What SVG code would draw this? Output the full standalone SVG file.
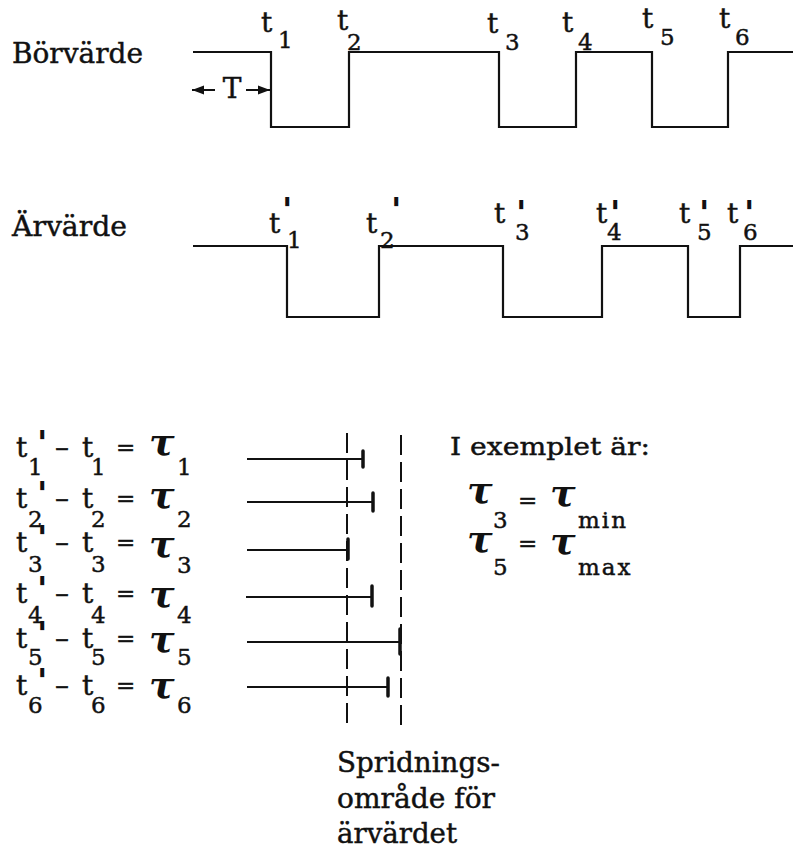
<svg xmlns="http://www.w3.org/2000/svg" width="795" height="852" viewBox="0 0 795 852">
<style>
text{font-family:"DejaVu Serif","Liberation Serif",serif;fill:#111;stroke:#111;stroke-width:0.45}
.lbl{font-size:28px}
.t{font-size:28px}
.d{font-size:23px}
.p{font-size:34px;font-weight:bold;stroke:none}
.tau{font-size:38px;font-style:italic;font-weight:bold;stroke:none}
.wave{fill:none;stroke:#111;stroke-width:2.2}
.bar{stroke:#111;stroke-width:2}
.tick{stroke:#111;stroke-width:3.5;stroke-linecap:round}
.dash{stroke:#111;stroke-width:2;stroke-dasharray:20 7}
</style>
<defs>
<marker id="ah" viewBox="0 0 12 10" refX="12" refY="5" markerWidth="12" markerHeight="10" markerUnits="userSpaceOnUse" orient="auto">
<path d="M0,0.5 L12,5 L0,9.5 Z" fill="#111"/>
</marker>
</defs>
<rect width="795" height="852" fill="#fff"/>

<g id="borvarde">
<text class="lbl" x="12" y="63" textLength="131" lengthAdjust="spacingAndGlyphs">Börvärde</text>
<path class="wave" d="M193,52 H271 V127 H349 V52 H499 V127 H576 V52 H652 V127 H728 V52 H793"/>
<text class="t" x="261" y="32">t<tspan class="d" x="278" y="48">1</tspan></text>
<text class="t" x="337" y="30">t<tspan class="d" x="347" y="50">2</tspan></text>
<text class="t" x="487" y="33">t<tspan class="d" x="505" y="50">3</tspan></text>
<text class="t" x="562" y="32">t<tspan class="d" x="578" y="50">4</tspan></text>
<text class="t" x="642" y="28">t<tspan class="d" x="660" y="45">5</tspan></text>
<text class="t" x="719" y="28">t<tspan class="d" x="735" y="45">6</tspan></text>
</g>

<g id="period-T">
<line class="bar" x1="215" y1="90" x2="192" y2="90" marker-end="url(#ah)"/>
<line class="bar" x1="246" y1="90" x2="270" y2="90" marker-end="url(#ah)"/>
<text class="t" x="232" y="98" text-anchor="middle">T</text>
</g>

<g id="arvarde">
<text class="lbl" x="12" y="236" textLength="115" lengthAdjust="spacingAndGlyphs">Ärvärde</text>
<path class="wave" d="M193,246 H287 V317 H379 V246 H503 V317 H602 V246 H688 V317 H740 V246 H793"/>
<text class="t" x="269" y="233">t<tspan class="p" x="282" y="222">'</tspan><tspan class="d" x="287" y="248">1</tspan></text>
<text class="t" x="366" y="233">t<tspan class="p" x="391" y="222">'</tspan><tspan class="d" x="380" y="248">2</tspan></text>
<text class="t" x="494" y="223">t<tspan class="p" x="516" y="225">'</tspan><tspan class="d" x="515" y="240">3</tspan></text>
<text class="t" x="596" y="223">t<tspan class="p" x="610" y="225">'</tspan><tspan class="d" x="607" y="240">4</tspan></text>
<text class="t" x="679" y="223">t<tspan class="p" x="699" y="225">'</tspan><tspan class="d" x="697" y="240">5</tspan></text>
<text class="t" x="727" y="223">t<tspan class="p" x="744" y="225">'</tspan><tspan class="d" x="743" y="240">6</tspan></text>
</g>

<g id="equations">
<text id="eq1" class="t" x="16" y="457">t<tspan class="p" x="37" y="455">'</tspan><tspan class="d" x="28" y="475">1</tspan><tspan x="55" y="457">–</tspan><tspan x="82" y="457">t</tspan><tspan class="d" x="91" y="475">1</tspan><tspan class="d" x="116" y="455">=</tspan><tspan class="tau" x="149" y="455">τ</tspan><tspan class="d" x="177" y="475">1</tspan></text>
<text id="eq2" class="t" x="16" y="508">t<tspan class="p" x="37" y="506">'</tspan><tspan class="d" x="28" y="527">2</tspan><tspan x="55" y="508">–</tspan><tspan x="82" y="508">t</tspan><tspan class="d" x="91" y="527">2</tspan><tspan class="d" x="116" y="506">=</tspan><tspan class="tau" x="149" y="508">τ</tspan><tspan class="d" x="177" y="527">2</tspan></text>
<text id="eq3" class="t" x="16" y="552">t<tspan class="p" x="37" y="550">'</tspan><tspan class="d" x="28" y="572">3</tspan><tspan x="55" y="552">–</tspan><tspan x="82" y="552">t</tspan><tspan class="d" x="91" y="572">3</tspan><tspan class="d" x="116" y="550">=</tspan><tspan class="tau" x="149" y="557">τ</tspan><tspan class="d" x="177" y="573">3</tspan></text>
<text id="eq4" class="t" x="16" y="603">t<tspan class="p" x="37" y="601">'</tspan><tspan class="d" x="28" y="623">4</tspan><tspan x="55" y="603">–</tspan><tspan x="82" y="603">t</tspan><tspan class="d" x="91" y="623">4</tspan><tspan class="d" x="116" y="601">=</tspan><tspan class="tau" x="149" y="607">τ</tspan><tspan class="d" x="177" y="623">4</tspan></text>
<text id="eq5" class="t" x="16" y="648">t<tspan class="p" x="37" y="646">'</tspan><tspan class="d" x="28" y="665">5</tspan><tspan x="55" y="648">–</tspan><tspan x="82" y="648">t</tspan><tspan class="d" x="91" y="665">5</tspan><tspan class="d" x="116" y="646">=</tspan><tspan class="tau" x="149" y="652">τ</tspan><tspan class="d" x="177" y="665">5</tspan></text>
<text id="eq6" class="t" x="16" y="695">t<tspan class="p" x="37" y="693">'</tspan><tspan class="d" x="28" y="713">6</tspan><tspan x="55" y="695">–</tspan><tspan x="82" y="695">t</tspan><tspan class="d" x="91" y="713">6</tspan><tspan class="d" x="116" y="693">=</tspan><tspan class="tau" x="149" y="698">τ</tspan><tspan class="d" x="177" y="713">6</tspan></text>
</g>

<g id="bars">
<line class="bar" x1="247" y1="459" x2="363" y2="459"/><line class="tick" x1="363" y1="451" x2="363" y2="467"/>
<line class="bar" x1="247" y1="502" x2="373" y2="502"/><line class="tick" x1="373" y1="493" x2="373" y2="511"/>
<line class="bar" x1="247" y1="550" x2="348" y2="550"/><line class="tick" x1="348" y1="539" x2="348" y2="559"/>
<line class="bar" x1="246" y1="597" x2="372" y2="597"/><line class="tick" x1="372" y1="586" x2="372" y2="606"/>
<line class="bar" x1="247" y1="642" x2="400" y2="642"/><line class="tick" x1="400" y1="629" x2="400" y2="654"/>
<line class="bar" x1="247" y1="687" x2="388" y2="687"/><line class="tick" x1="388" y1="678" x2="388" y2="696"/>
</g>

<g id="spread-lines">
<line class="dash" x1="347" y1="433" x2="347" y2="727"/>
<line class="dash" x1="401" y1="435" x2="401" y2="728"/>
</g>

<g id="example">
<text x="450" y="455" style="font-size:25px" textLength="200" lengthAdjust="spacingAndGlyphs">I exemplet är:</text>
<text class="d" x="467" y="503"><tspan class="tau" x="467" y="503">τ</tspan><tspan x="493" y="528">3</tspan><tspan x="518" y="508">=</tspan><tspan class="tau" x="550" y="506">τ</tspan><tspan x="578" y="528" style="letter-spacing:2px">min</tspan></text>
<text class="d" x="467" y="552"><tspan class="tau" x="467" y="552">τ</tspan><tspan x="493" y="575">5</tspan><tspan x="518" y="551">=</tspan><tspan class="tau" x="550" y="554">τ</tspan><tspan x="578" y="575" style="letter-spacing:2px">max</tspan></text>
</g>

<g id="spread-label">
<text class="lbl" x="337" y="772" style="font-size:27px" textLength="163" lengthAdjust="spacingAndGlyphs">Spridnings-</text>
<text class="lbl" x="337" y="808" style="font-size:27px" textLength="158" lengthAdjust="spacingAndGlyphs">område för</text>
<text class="lbl" x="337" y="843" style="font-size:27px" textLength="120" lengthAdjust="spacingAndGlyphs">ärvärdet</text>
</g>
</svg>
